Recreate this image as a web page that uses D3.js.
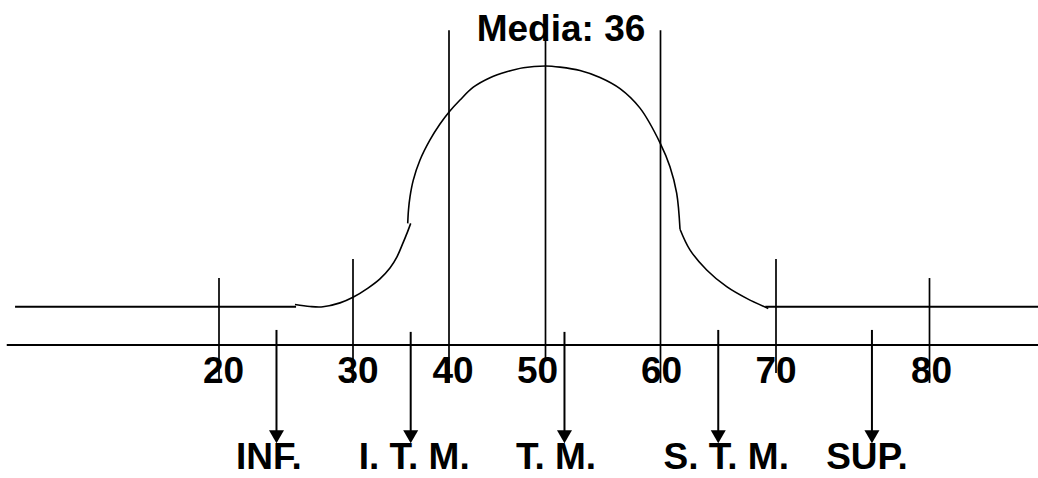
<!DOCTYPE html>
<html>
<head>
<meta charset="utf-8">
<script src="https://cdn.jsdelivr.net/npm/d3@7"></script>
<style>
  html, body { margin: 0; padding: 0; background: #fff; }
  svg { display: block; }
  text { font-family: "Liberation Sans", Arial, sans-serif; font-weight: bold; fill: #000; }
</style>
</head>
<body>
<svg id="chart" width="1038" height="478"></svg>
<script>
// ---------- DATA ----------
const tickValues = [20, 30, 40, 50, 60, 70, 80];
const tickLabels = ["20", "30", "40", "50", "60", "70", "80"];
// height (in y units) at which each vertical marker starts / ends
const tickTops    = [24, 30.8, 112.8, 114.2, 112.8, 30.8, 24];
const tickBottoms = [-13.6, -13.6, -13.6, -4.7, -13.6, -10, -13.6];

const title = "Media: 36";

const categoryLabels = ["INF.", "I. T. M.", "T. M.", "S. T. M.", "SUP."];
const categoryArrowX = [24.29, 36.01, 51.65, 65.0, 76.25];
const arrowTop = [5.4, 4.7, 4.7, 5.4, 5.4];
const arrowTip = -35.2;

// curve pieces [x, y]
const leftTail = [
  [25.67, 14.5], [26.79, 13.8], [27.76, 13.7], [29.03, 15.1], [30.0, 17.1],
  [31.56, 20.4], [32.81, 23.7], [33.85, 27.6], [34.58, 31.6], [35.21, 36.6],
  [35.63, 40.1], [36.01, 43.6]
];
const dome = [
  [35.70, 43.6], [35.78, 48.4], [35.94, 53.2], [36.28, 59.1], [36.98, 66.3],
  [38.02, 73.5], [39.06, 79.2], [40.03, 83.6], [41.14, 87.8], [42.52, 92.4],
  [44.25, 95.8], [45.98, 97.95], [47.70, 99.4], [50.0, 100.0], [51.26, 99.6],
  [53.0, 98.4], [54.74, 95.9], [56.48, 91.9], [58.22, 84.9], [59.98, 72.3],
  [60.82, 63.9], [61.40, 54.4], [61.69, 41.5]
];
const rightTail = [
  [61.69, 41.5], [62.55, 34.1], [64.0, 26.9], [65.73, 20.9], [67.46, 16.7], [69.33, 13.1]
];
// flat level lines [x0, x1] at baseLevel
const baseLevel = 13.7;
const leftFlat = [4.78, 25.75];
const rightFlat = [69.07, 87.07];
const axisExtent = [4.16, 87.07];

// ---------- LAYOUT ----------
const xRange = [219, 353, 449, 545.5, 660.5, 776, 929.5];
const yRange = [345, 66];
const tickLabelDx = [4.5, 5, 4, -8, 1, 0, 2];
const tickLabelY = 383;
const catLabelDx = [-7.5, 3.5, -8.5, 8, -5];
const catLabelY = 469.3;
const fontSize = 37;

const svg = d3.select("#chart");
const x = d3.scaleLinear().domain(tickValues).range(xRange);
const y = d3.scaleLinear().domain([0, 100]).range(yRange);

// axis line
svg.append("line")
  .attr("x1", x(axisExtent[0])).attr("x2", x(axisExtent[1]))
  .attr("y1", y(0)).attr("y2", y(0))
  .attr("stroke", "#000").attr("stroke-width", 2);

// flat upper lines
[leftFlat, rightFlat].forEach(seg => {
  svg.append("line")
    .attr("x1", x(seg[0])).attr("x2", x(seg[1]))
    .attr("y1", y(baseLevel)).attr("y2", y(baseLevel))
    .attr("stroke", "#000").attr("stroke-width", 2);
});

// vertical tick lines
svg.selectAll("line.tick")
  .data(tickValues)
  .enter().append("line")
  .attr("class", "tick")
  .attr("x1", d => x(d)).attr("x2", d => x(d))
  .attr("y1", (d, i) => y(tickTops[i]))
  .attr("y2", (d, i) => y(tickBottoms[i]))
  .attr("stroke", "#000").attr("stroke-width", 1.7);

// curve
const line = d3.line().x(d => x(d[0])).y(d => y(d[1])).curve(d3.curveCatmullRom.alpha(0.5));
[leftTail, dome, rightTail].forEach(pts => {
  svg.append("path")
    .attr("d", line(pts))
    .attr("fill", "none")
    .attr("stroke", "#000")
    .attr("stroke-width", 1.6);
});

// tick labels
svg.selectAll("text.tl")
  .data(tickLabels)
  .enter().append("text")
  .attr("class", "tl")
  .attr("x", (d, i) => x(tickValues[i]) + tickLabelDx[i])
  .attr("y", tickLabelY)
  .attr("text-anchor", "middle")
  .attr("font-size", fontSize)
  .text(d => d);

// title
svg.append("text")
  .attr("x", x(50) + 15.5)
  .attr("y", 40.7)
  .attr("text-anchor", "middle")
  .attr("font-size", fontSize)
  .text(title);

// category labels
svg.selectAll("text.cl")
  .data(categoryLabels)
  .enter().append("text")
  .attr("class", "cl")
  .attr("x", (d, i) => x(categoryArrowX[i]) + catLabelDx[i])
  .attr("y", catLabelY)
  .attr("text-anchor", "middle")
  .attr("font-size", fontSize)
  .text(d => d);

// arrows
const headLen = 13, headHalf = 7.5;
categoryArrowX.forEach((v, i) => {
  const ax = x(v), top = y(arrowTop[i]), tip = y(arrowTip);
  svg.append("line")
    .attr("x1", ax).attr("x2", ax)
    .attr("y1", top).attr("y2", tip - headLen + 1)
    .attr("stroke", "#000").attr("stroke-width", 2);
  svg.append("path")
    .attr("d", `M${ax - headHalf},${tip - headLen} L${ax + headHalf},${tip - headLen} L${ax},${tip} Z`)
    .attr("fill", "#000");
});
</script>
</body>
</html>
